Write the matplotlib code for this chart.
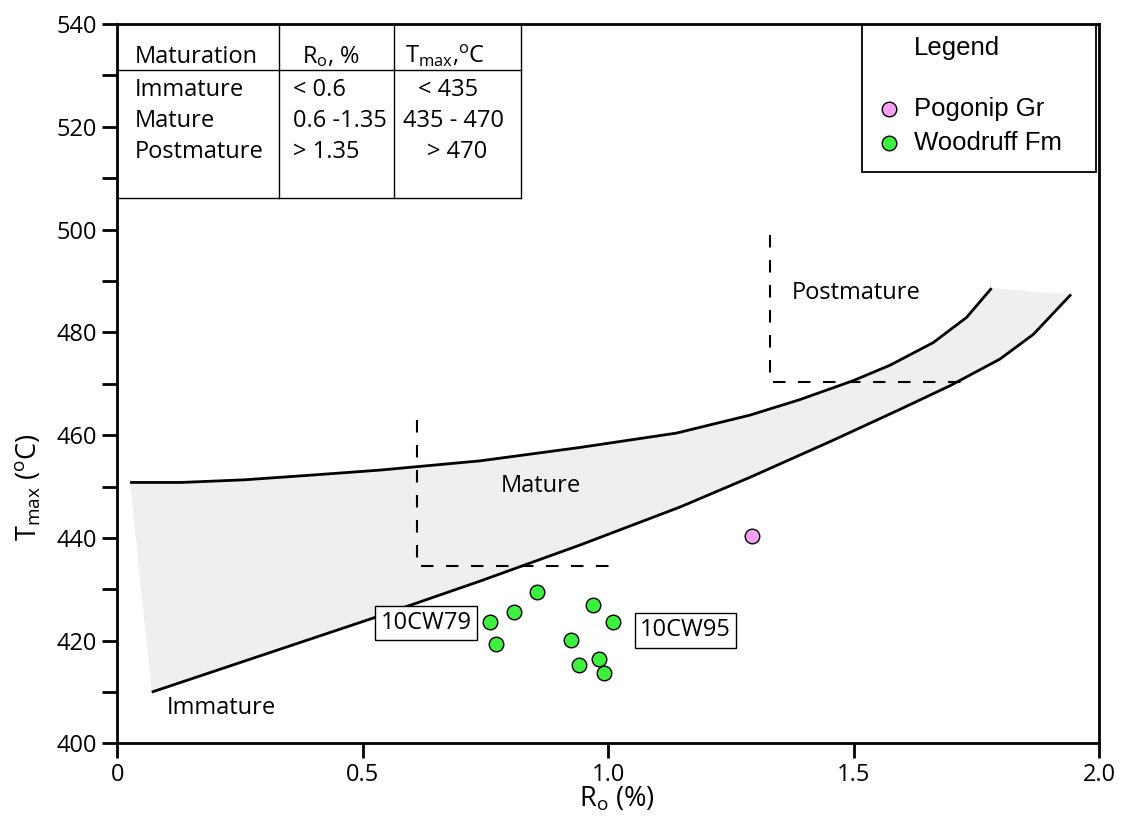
import matplotlib
matplotlib.use("Agg")
import matplotlib.pyplot as plt
from matplotlib.patches import Rectangle, Polygon
from matplotlib.ticker import MultipleLocator

plt.rcParams['font.family'] = ['Open Sans', 'DejaVu Sans']
plt.rcParams['mathtext.fontset'] = 'custom'
plt.rcParams['mathtext.rm'] = 'Open Sans'
plt.rcParams['mathtext.it'] = 'Open Sans'

# ---- sample measurements: vitrinite reflectance (Ro, %) vs Tmax (deg C) ----
woodruff_ro = [0.854, 0.808, 0.760, 0.771, 0.969, 1.010, 0.925, 0.982, 0.940, 0.991]
woodruff_tmax = [429.4, 425.6, 423.6, 419.4, 427.0, 423.6, 420.2, 416.4, 415.2, 413.8]
pogonip_ro = [1.293]
pogonip_tmax = [440.4]

# ---- envelope of the Ro-Tmax trend ----
upper_ro = [0.026, 0.131, 0.257, 0.392, 0.535, 0.739, 0.942, 1.139, 1.289, 1.390,
            1.499, 1.574, 1.662, 1.730, 1.781]
upper_tmax = [450.8, 450.8, 451.3, 452.2, 453.2, 455.0, 457.6, 460.4, 463.9, 466.9,
              470.6, 473.6, 478.0, 482.9, 488.6]
lower_ro = [0.070, 0.521, 0.739, 0.942, 1.146, 1.289, 1.458, 1.594, 1.696, 1.798,
            1.866, 1.943]
lower_tmax = [410.0, 424.4, 431.6, 438.6, 446.0, 451.8, 459.0, 465.0, 469.6, 474.8,
              479.6, 487.4]

# ---- maturity threshold guides ----
mature_guide_ro = [0.61, 0.61, 1.02]
mature_guide_tmax = [463.0, 434.6, 434.6]
post_guide_ro = [1.33, 1.33, 1.74]
post_guide_tmax = [499.0, 470.4, 470.4]

# ---- zone names ----
zone_names = ['Immature', 'Mature', 'Postmature']

# ---- sample labels ----
sample_ids = ['10CW79', '10CW95']
sample_label_ro = [0.629, 1.157]
sample_label_tmax = [423.4, 422.0]

# ---- maturation table ----
table_header = ['Maturation', r'R$_\mathrm{o}$, %', r'T$_\mathrm{max}$,$^\mathrm{o}$C']
table_rows = [['Immature', '< 0.6', '< 435'],
              ['Mature', '0.6 -1.35', '435 - 470'],
              ['Postmature', '> 1.35', '> 470']]

# ---- legend entries ----
series_names = ['Pogonip Gr', 'Woodruff Fm']
series_colors = ['#f5a0f5', '#3ef03e']

x_ticks = [0, 0.5, 1.0, 1.5, 2.0]
x_ticklabels = ['0', '0.5', '1.0', '1.5', '2.0']

FS = 17

fig = plt.figure(figsize=(11.24, 8.23), dpi=100)
ax = fig.add_axes([0.1044, 0.0966, 0.8734, 0.8742])
ax.set_xlim(0, 2.0)
ax.set_ylim(400, 540)

# shaded envelope
poly_pts = list(zip(upper_ro, upper_tmax)) + list(zip(lower_ro[::-1], lower_tmax[::-1]))
ax.add_patch(Polygon(poly_pts, closed=True, facecolor='#efefef', edgecolor='none', zorder=1))
ax.plot(upper_ro, upper_tmax, color='black', lw=2.0, zorder=3,
        solid_capstyle='butt', solid_joinstyle='round')
ax.plot(lower_ro, lower_tmax, color='black', lw=2.0, zorder=3,
        solid_capstyle='butt', solid_joinstyle='round')

# threshold guides
for gx, gy in [(mature_guide_ro, mature_guide_tmax), (post_guide_ro, post_guide_tmax)]:
    ax.plot(gx, gy, color='black', lw=1.5, linestyle=(0, (6, 6)), zorder=2)

# zone names
ax.text(0.101, 406.9, zone_names[0], fontsize=FS, ha='left', va='center', zorder=4)
ax.text(0.862, 450.1, zone_names[1], fontsize=FS, ha='center', va='center', zorder=4)
ax.text(1.373, 487.6, zone_names[2], fontsize=FS, ha='left', va='center', zorder=4)

# sample points
ax.scatter(woodruff_ro, woodruff_tmax, s=110, facecolor=series_colors[1],
           edgecolor='black', linewidth=1.0, zorder=5)
ax.scatter(pogonip_ro, pogonip_tmax, s=110, facecolor=series_colors[0],
           edgecolor='black', linewidth=1.0, zorder=5)

# sample labels
for sid, sx, sy in zip(sample_ids, sample_label_ro, sample_label_tmax):
    ax.text(sx, sy, sid, fontsize=FS, ha='center', va='center', zorder=6,
            bbox=dict(boxstyle='square,pad=0.22', facecolor='white',
                      edgecolor='black', linewidth=1.0))

# maturation table
col_edges = [0.0, 0.329, 0.5635, 0.822]
tbl_top, tbl_head, tbl_bottom = 540.0, 531.06, 506.15
tbl_kw = dict(color='black', lw=1.0, zorder=6, clip_on=False)
ax.add_patch(Rectangle((col_edges[0], tbl_bottom), col_edges[-1] - col_edges[0],
                       tbl_top - tbl_bottom, facecolor='white', edgecolor='none', zorder=5))
ax.plot([col_edges[0], col_edges[-1]], [tbl_head, tbl_head], **tbl_kw)
ax.plot([col_edges[0], col_edges[-1]], [tbl_bottom, tbl_bottom], **tbl_kw)
for cx in col_edges[1:]:
    ax.plot([cx, cx], [tbl_bottom, tbl_top], **tbl_kw)

head_base = 532.36
row_base = [526.0, 520.0, 513.9]
ax.text(0.036, head_base, table_header[0], fontsize=FS, ha='left', va='baseline', zorder=7)
ax.text(0.436, head_base, table_header[1], fontsize=FS, ha='center', va='baseline', zorder=7)
ax.text(0.668, head_base, table_header[2], fontsize=FS, ha='center', va='baseline', zorder=7)
col3_centers = [0.674, 0.684, 0.693]
for row, yb, c3 in zip(table_rows, row_base, col3_centers):
    ax.text(0.036, yb, row[0], fontsize=FS, ha='left', va='baseline', zorder=7)
    ax.text(0.358, yb, row[1], fontsize=FS, ha='left', va='baseline', zorder=7)
    ax.text(c3, yb, row[2], fontsize=FS, ha='center', va='baseline', zorder=7)

# legend box
leg_x0, leg_y0 = 0.7586, 0.794
ax.add_patch(Rectangle((leg_x0, leg_y0), 0.997 - leg_x0, 1.0 - leg_y0,
                       transform=ax.transAxes, facecolor='white', edgecolor='black',
                       linewidth=1.3, zorder=6))
ax.text(0.8116, 0.9666, 'Legend', transform=ax.transAxes, fontsize=18.5,
        family='Liberation Sans', ha='left', va='center', zorder=7)
for name, col, ly in zip(series_names, series_colors, [0.8819, 0.8346]):
    ax.scatter([0.786], [ly], s=110, facecolor=col, edgecolor='black', linewidth=1.0,
               transform=ax.transAxes, zorder=7, clip_on=False)
    ax.text(0.8116, ly, name, transform=ax.transAxes, fontsize=18.5,
            family='Liberation Sans', ha='left', va='center', zorder=7)

# axes styling
for sp in ax.spines.values():
    sp.set_linewidth(2.0)
    sp.set_zorder(8)
ax.set_xticks(x_ticks)
ax.set_xticklabels(x_ticklabels)
ax.yaxis.set_major_locator(MultipleLocator(20))
ax.yaxis.set_minor_locator(MultipleLocator(10))
ax.tick_params(axis='both', which='both', direction='out', length=11, width=2.0,
               labelsize=FS)
ax.tick_params(axis='x', pad=3)
ax.tick_params(axis='y', pad=3.5)

ax.set_xlabel(r'R$_\mathrm{o}$ (%)', fontsize=19.5)
ax.set_ylabel(r'T$_\mathrm{max}$ ($^\mathrm{o}$C)', fontsize=19.5)
ax.xaxis.set_label_coords(0.509, -0.058)
ax.yaxis.set_label_coords(-0.0757, 0.3565)

fig.savefig('out.png', dpi=100)
